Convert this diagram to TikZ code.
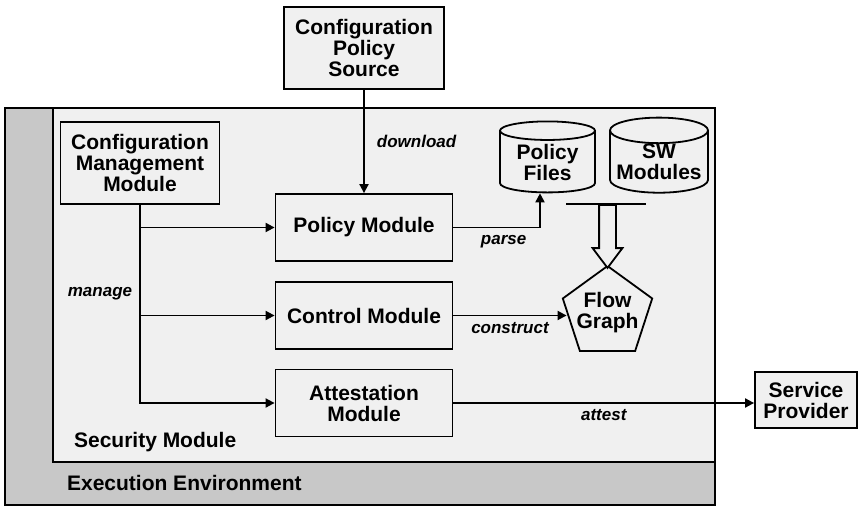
\documentclass[tikz,border=0pt]{standalone}
\usepackage{fontspec}
\setmainfont{Liberation Sans}
\usetikzlibrary{shapes.geometric,shapes.arrows,arrows.meta,positioning}
\definecolor{envgray}{HTML}{C8C8C8}
\definecolor{modgray}{HTML}{F0F0F0}

\begin{document}
\begin{tikzpicture}[x=0.5pt,y=-0.5pt,
        font=\fontsize{10.5}{10.5}\selectfont\bfseries,
        module/.style={draw, line width=0.9pt, fill=modgray, align=center, inner sep=0pt},
        store/.style={cylinder, shape border rotate=90, aspect=0.3, draw, line width=0.9pt,
            fill=modgray, align=center, inner sep=0pt},
        note/.style={font=\fontsize{8.5}{8.5}\selectfont\bfseries\itshape, inner sep=0pt},
        arr/.style={line width=0.9pt, -{Triangle[length=4.5pt,width=4.5pt]}}]
        \useasboundingbox (0,0) rectangle (860,507);

        % Environments:
        % The execution environment is the grey frame, the security module sits inside it
        \filldraw [fill=envgray, line width=0.9pt] (5,108) rectangle (715,505);
        \filldraw [fill=modgray, line width=0.9pt] (53,108) rectangle (715,462);
        \node [anchor=west] (secmod) at (67,442) {Security Module};
        \node [anchor=west] (exenv)  at (60,483) {Execution Environment};

        % Modules:
        \node [module, minimum width=80pt,   minimum height=41pt]   (cps)     at (364,48)    {Configuration\\Policy\\Source};
        \node [module, minimum width=79.5pt, minimum height=41pt]   (cmm)     at (140,163)   {Configuration\\Management\\Module};
        \node [module, minimum width=88.5pt, minimum height=33.5pt] (policy)  at (364,227.5) {Policy Module};
        \node [module, minimum width=88.5pt, minimum height=33.5pt] (control) at (364,315.5) {Control Module};
        \node [module, minimum width=88.5pt, minimum height=33.5pt] (attest)  at (364,403)   {Attestation\\Module};
        \node [module, minimum width=51pt,   minimum height=28pt]   (spro)    at (806,400)   {Service\\Provider};

        % Stores and the flow graph:
        \node [store, minimum width=47.5pt, minimum height=35.5pt] (pfiles) at (547.5,162) {Policy\\Files};
        \node [store, minimum width=49pt,   minimum height=35.5pt] (swmods) at (659,162)   {SW\\Modules};
        \node [regular polygon, regular polygon sides=5, draw, line width=0.9pt, fill=modgray,
            minimum size=47pt, inner sep=-3.5pt, align=center] (flow) at (607.5,313) {Flow\\Graph};

        % Both stores are merged into the flow graph:
        \coordinate (bar-l) at (566,204);
        \coordinate (bar-r) at (646,204);
        \draw [line width=0.9pt] (bar-l) -- (bar-r);
        \coordinate (bar) at (flow.corner 1 |- bar-l);
        \node [single arrow, shape border rotate=270, draw, line width=0.9pt, fill=modgray,
            minimum height=31.5pt, inner sep=3.75pt, single arrow head extend=3.25pt,
            single arrow tip angle=74, anchor=tail] (merge) at (bar) {};

        % Connectors:
        \draw [arr] (cps) -- node [note, right=6pt] {download} (policy);
        \draw [arr] (cmm.south) |- node [note, left=3.5pt, pos=0.224] {manage} (attest.west);
        \draw [arr] (cmm.south |- policy.west)  -- (policy.west);
        \draw [arr] (cmm.south |- control.west) -- (control.west);
        \draw [arr] (policy.east) -| node [note, below=3.5pt, pos=0.29] {parse} ([xshift=-3.75pt]pfiles.south);
        \draw [arr] (control.east) -- node [note, below=3pt] {construct} (control.east -| flow.west);
        \draw [arr] (attest.east) -- node [note, below=3pt] {attest} (attest.east -| spro.west);
    \end{tikzpicture}
\end{document}
